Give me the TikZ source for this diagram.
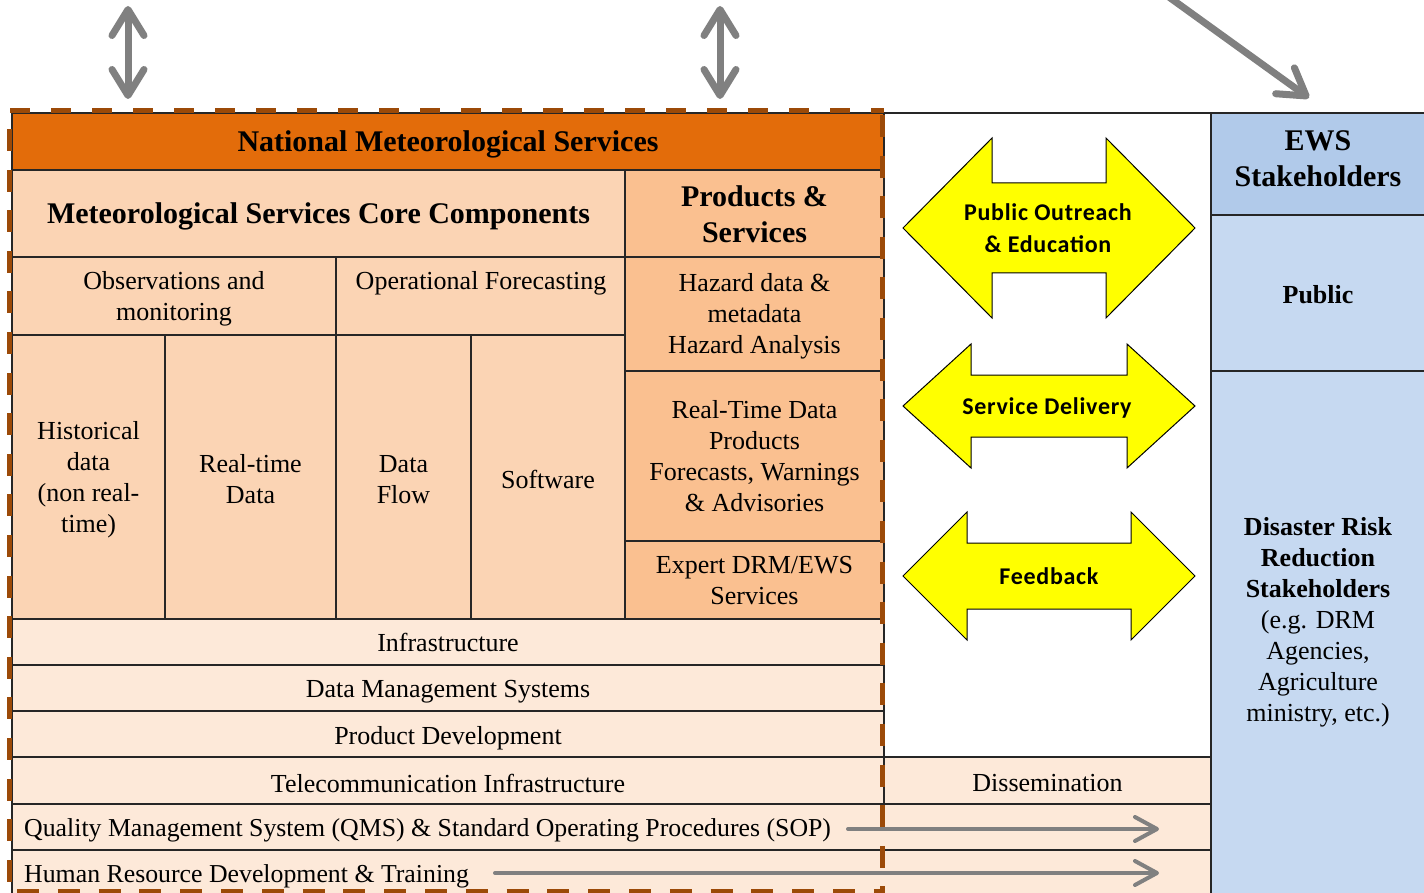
\documentclass[tikz,border=0pt]{standalone}
\usepackage{fontspec}
\setmainfont{Liberation Serif}
\newfontfamily\arrowfam{Carlito}[LetterSpace=3]
\usetikzlibrary{arrows.meta}
\definecolor{nmsorange}{HTML}{E36C0A}
\definecolor{peach}{HTML}{FBD4B4}
\definecolor{prodpeach}{HTML}{FAC090}
\definecolor{lightpeach}{HTML}{FDE9D9}
\definecolor{bluehead}{HTML}{B1CAEA}
\definecolor{bluecell}{HTML}{C6D9F1}
\definecolor{dashbrown}{HTML}{9C4A08}
\definecolor{arrowgray}{HTML}{808080}
\definecolor{lineblk}{HTML}{262626}
\definecolor{ayellow}{HTML}{FFFF00}
\newcommand\fReg{\fontsize{26}{31}\selectfont}
\newcommand\fRow{\fontsize{25.8}{31}\selectfont}
\newcommand\fHdr{\fontsize{30}{36}\selectfont\bfseries}
\newcommand\fBsm{\fontsize{26}{31}\selectfont\bfseries}
\newcommand\fArr{\arrowfam\fontsize{24}{32}\selectfont\bfseries}
% [node options]{name}{x}{y}{w}{h}{fill}{text}
\newcommand\cellbox[8][]{%
  \path[cellframe, fill=#7] (#3,#4) rectangle ++(#5,#6);
  \node[txt,#1] (#2) at ({#3+#5/2},{#4+#6/2+2.5}) {#8};}
\begin{document}
\begin{tikzpicture}[x=1pt,y=-1pt,
  cellframe/.style={draw=lineblk, line width=1.3pt},
  txt/.style={inner sep=0pt, align=center, font=\fReg},
  yarrow/.style={fill=ayellow, draw=black, line width=1pt, line join=miter},
  ytext/.style={inner sep=0pt, align=center, font=\fArr},
  bigarr/.style={draw=arrowgray, line width=7pt, line cap=round},
  bigtips/.style={arrows={{Straight Barb[round,length=26pt,width=32pt]}-{Straight Barb[round,length=26pt,width=32pt]}}},
  bigtip/.style={arrows={-{Straight Barb[round,length=26pt,width=32pt]}}},
  smallarr/.style={draw=arrowgray, line width=4pt, line cap=round, arrows={-{Straight Barb[round,length=22pt,width=24pt]}}},
  dashb/.style={draw=dashbrown, line width=5pt}
]
\useasboundingbox (0,0) rectangle (1424,893);
\clip (0,0) rectangle (1424,893);
\fill[white] (0,0) rectangle (1424,893);

% --- NMS block ---
\cellbox[font=\fHdr]{nms}{12}{113}{872}{57}{nmsorange}{National Meteorological Services}
\cellbox[font=\fHdr]{core}{12}{170}{613}{87}{peach}{Meteorological Services Core Components}
\cellbox[font=\fHdr, yshift=1.5]{prod}{625}{170}{259}{87}{prodpeach}{Products \&\\Services}
\path[cellframe, fill=peach] (12,257) rectangle ++(324,78);
\node[txt] (obs) at (174,298.5) {Observations and\\monitoring};
\path[cellframe, fill=peach] (336,257) rectangle ++(289,78);
\node[txt] (opf) at (481,283) {Operational Forecasting};
\cellbox{haz}{625}{257}{259}{114}{prodpeach}{Hazard data \&\\metadata\\Hazard Analysis}
\cellbox{hist}{12}{335}{153}{284}{peach}{Historical\\data\\(non real-\\time)}
\cellbox{rtd}{165}{335}{171}{284}{peach}{Real-time\\Data}
\cellbox{dflow}{336}{335}{135}{284}{peach}{Data\\Flow}
\cellbox{soft}{471}{335}{154}{284}{peach}{Software}
\cellbox[yshift=2]{rtp}{625}{371}{259}{170}{prodpeach}{Real-Time Data\\Products\\Forecasts, Warnings\\\& Advisories}
\cellbox[yshift=1.5]{expert}{625}{541}{259}{78}{prodpeach}{Expert DRM/EWS\\Services}
\cellbox[yshift=2.5]{infra}{12}{619}{872}{46}{lightpeach}{Infrastructure}
\cellbox[yshift=-1.5]{dms}{12}{665}{872}{46}{lightpeach}{Data Management Systems}
\cellbox[yshift=-1.5]{pdev}{12}{711}{872}{46}{lightpeach}{Product Development}
\cellbox{tele}{12}{757}{872}{47}{lightpeach}{Telecommunication Infrastructure}
\cellbox{diss}{884}{757}{327}{47}{lightpeach}{Dissemination}
\path[cellframe, fill=lightpeach] (12,804) rectangle ++(1199,46);
\node[txt, font=\fRow, anchor=west] (qms) at (24,830) {Quality Management System (QMS) \& Standard Operating Procedures (SOP)};
\path[cellframe, fill=lightpeach] (12,850) rectangle ++(1199,50);
\node[txt, font=\fRow, anchor=west] (hr) at (24,876) {Human Resource Development \& Training};

% --- middle white column ---
\path[cellframe, fill=white] (884,113) rectangle ++(327,644);

% --- stakeholders column ---
\path[cellframe, fill=bluehead] (1211,113) rectangle ++(216,102);
\node[txt, font=\fHdr] (ews) at (1318,158.5) {EWS\\Stakeholders};
\path[cellframe, fill=bluecell] (1211,215) rectangle ++(216,156);
\node[txt, font=\fBsm] (public) at (1318,295) {Public};
\path[cellframe, fill=bluecell] (1211,371) rectangle ++(216,530);
\node[txt] (drr) at (1318,622.5) {\textbf{Disaster Risk}\\\textbf{Reduction}\\\textbf{Stakeholders}\\(e.g. DRM\\Agencies,\\Agriculture\\ministry, etc.)};

% --- yellow block arrows ---
\draw[yarrow] (903,228) -- (992,138) -- (992,183) -- (1106,183) -- (1106,138) -- (1195,228) -- (1106,318) -- (1106,273) -- (992,273) -- (992,318) -- cycle;
\node[ytext] (outreach) at (1048,228) {Public Outreach\\\& Education};
\draw[yarrow] (903,406) -- (971,344) -- (971,375) -- (1127,375) -- (1127,344) -- (1195,406) -- (1127,468) -- (1127,437) -- (971,437) -- (971,468) -- cycle;
\node[ytext] (delivery) at (1047,408) {Service Delivery};
\draw[yarrow] (903,576) -- (967,512) -- (967,543) -- (1131,543) -- (1131,512) -- (1195,576) -- (1131,640) -- (1131,609) -- (967,609) -- (967,640) -- cycle;
\node[ytext] (feedback) at (1049,576) {Feedback};

% --- dashed NMS boundary ---
\draw[dashb, dash pattern=on 20pt off 21pt] (10,110.5) -- (884,110.5);
\draw[dashb, dash pattern=on 22pt off 18.6pt] (9.5,129) -- (9.5,893);
\draw[dashb, dash pattern=on 22pt off 18.6pt] (882.5,115) -- (882.5,893);
\draw[dashb, dash pattern=on 22pt off 18.8pt] (17,891) -- (884,891);

% --- gray arrows ---
\coordinate (a1top) at (128,6);
\coordinate (a1bot) at (128,99);
\coordinate (a2top) at (720,6);
\coordinate (a2bot) at (720,99);
\coordinate (dstart) at (1155,-13);
\coordinate (dend) at (1309,98);
\draw[bigarr, bigtips] (a1bot) -- (a1top);
\draw[bigarr, bigtips] (a2bot) -- (a2top);
\draw[bigarr, bigtip] (dstart) -- (dend);

\coordinate (qs) at (848,829);
\coordinate (qe) at (1159,829);
\coordinate (hs) at (495,873);
\coordinate (he) at (1159,873);
\draw[smallarr] (qs) -- (qe);
\draw[smallarr] (hs) -- (he);
\end{tikzpicture}
\end{document}
